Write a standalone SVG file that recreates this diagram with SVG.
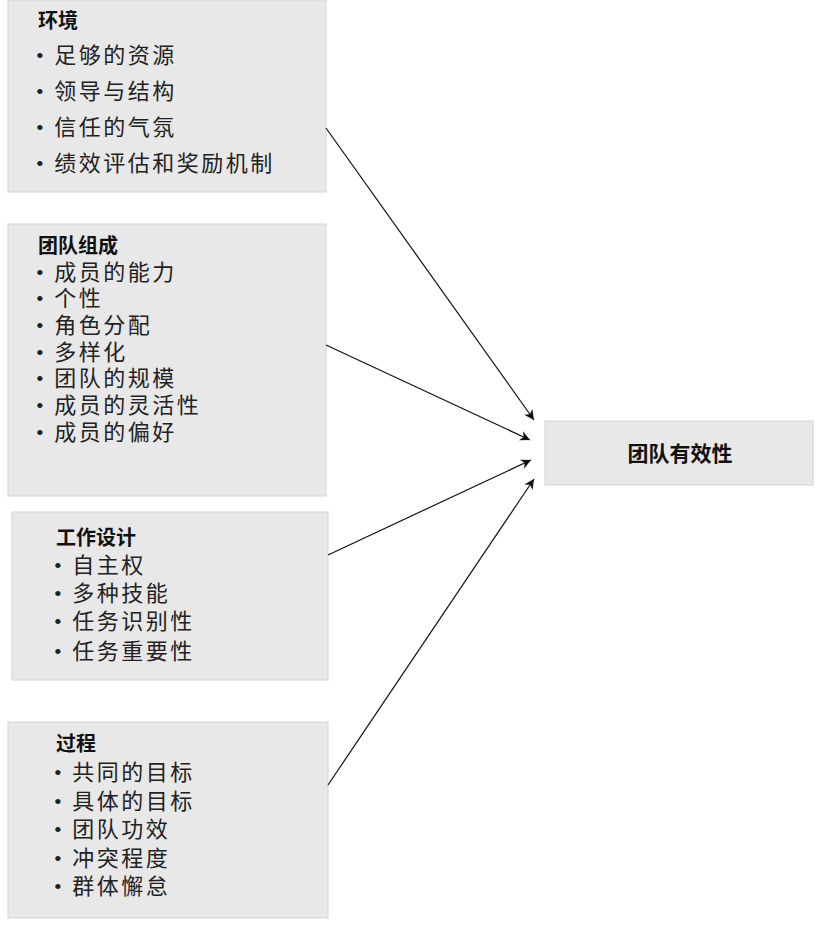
<svg xmlns="http://www.w3.org/2000/svg" width="825" height="925" viewBox="0 0 825 925">
<style>
.box{fill:#e8e8e8;stroke:#d4d4d4;stroke-width:1}
.t{font-family:"Noto Sans CJK SC",sans-serif;font-weight:bold;font-size:20px;fill:#111}
.i{font-family:"Liberation Serif","Noto Sans CJK SC",serif;font-size:22px;fill:#222;letter-spacing:2.5px}
.c{stroke:#111;stroke-width:1.2;fill:none;marker-end:url(#a)}
</style>
<defs><marker id="a" viewBox="0 0 10 10" refX="10" refY="5" markerWidth="10" markerHeight="10" markerUnits="userSpaceOnUse" orient="auto"><path d="M0,0L10,5L0,10L3,5Z" fill="#111"/></marker></defs>
<rect width="825" height="925" fill="#fff"/>
<g id="env"><rect class="box" x="8" y="0" width="318" height="192"/>
<text class="t" x="38" y="28">环境</text>
<text class="i" x="36" y="63">• 足够的资源</text>
<text class="i" x="36" y="99">• 领导与结构</text>
<text class="i" x="36" y="135">• 信任的气氛</text>
<text class="i" x="36" y="171">• 绩效评估和奖励机制</text></g>
<g id="comp"><rect class="box" x="8" y="224" width="318" height="272"/>
<text class="t" x="38" y="253">团队组成</text>
<text class="i" x="36" y="280">• 成员的能力</text>
<text class="i" x="36" y="306">• 个性</text>
<text class="i" x="36" y="333">• 角色分配</text>
<text class="i" x="36" y="360">• 多样化</text>
<text class="i" x="36" y="386">• 团队的规模</text>
<text class="i" x="36" y="413">• 成员的灵活性</text>
<text class="i" x="36" y="440">• 成员的偏好</text></g>
<g id="design"><rect class="box" x="12" y="512" width="316" height="168"/>
<text class="t" x="56" y="545">工作设计</text>
<text class="i" x="54" y="573">• 自主权</text>
<text class="i" x="54" y="601">• 多种技能</text>
<text class="i" x="54" y="629">• 任务识别性</text>
<text class="i" x="54" y="659">• 任务重要性</text></g>
<g id="proc"><rect class="box" x="8" y="722" width="320" height="196"/>
<text class="t" x="56" y="751">过程</text>
<text class="i" x="54" y="780">• 共同的目标</text>
<text class="i" x="54" y="809">• 具体的目标</text>
<text class="i" x="54" y="837">• 团队功效</text>
<text class="i" x="54" y="866">• 冲突程度</text>
<text class="i" x="54" y="894">• 群体懈怠</text></g>
<g id="eff"><rect class="box" x="545" y="421" width="268" height="64"/>
<text class="t" x="680" y="461" text-anchor="middle" style="font-size:21px">团队有效性</text></g>
<g id="connectors">
<line class="c" x1="326" y1="128" x2="534" y2="420"/>
<line class="c" x1="326" y1="345" x2="530" y2="440"/>
<line class="c" x1="328" y1="555" x2="531" y2="460"/>
<line class="c" x1="328" y1="785" x2="534" y2="479"/>
</g>
</svg>
